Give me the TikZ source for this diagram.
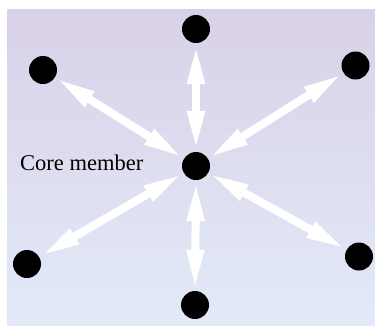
\documentclass[tikz,border=0pt]{standalone}
\usepackage{fontspec}
\setmainfont{Liberation Serif}
\usetikzlibrary{arrows.meta}
\definecolor{bgtop}{RGB}{217,209,232}
\definecolor{bgbot}{RGB}{226,234,248}
\tikzset{
  member/.style={circle, fill=black, draw=none, minimum size=28pt, inner sep=0pt},
  link/.style={draw=white, line width=8pt,
    {Triangle[length=40pt,width=16pt]}-{Triangle[length=40pt,width=16pt]},
    shorten <=1pt, shorten >=1pt}
}
\begin{document}
\begin{tikzpicture}[x=1pt,y=-1pt]
\useasboundingbox (0,0) rectangle (375,325);
\shade[top color=bgtop, bottom color=bgbot] (7,9) rectangle (375,325);
\node[member] (c) at (196,166) {};
\node[member] (t) at (196,29) {};
\node[member] (ul) at (43,70) {};
\node[member] (ur) at (355.5,65.5) {};
\node[member] (ll) at (27,264) {};
\node[member] (lr) at (359,256.5) {};
\node[member] (b) at (195,305) {};
\node[anchor=base west, font=\fontsize{22.5}{26}\selectfont, inner sep=0pt] (lbl) at (20,170) {Core member};
\foreach \n in {t,ul,ur,ll,lr,b}{
  \draw[link] (c) -- (\n);
}
\end{tikzpicture}
\end{document}
